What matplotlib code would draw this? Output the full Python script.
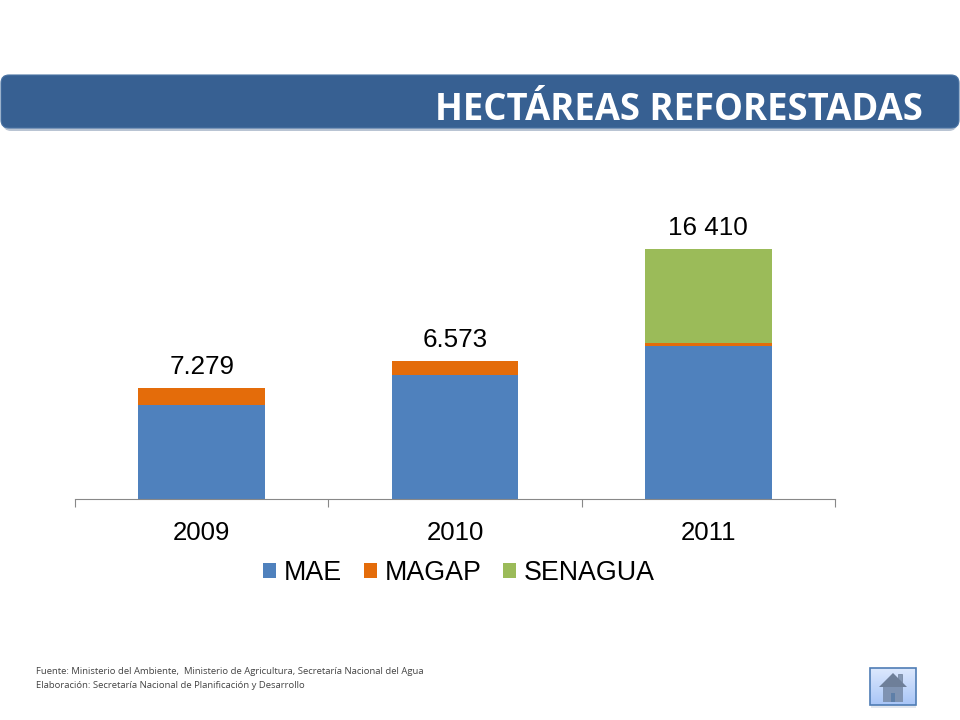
import numpy as np
import matplotlib.pyplot as plt
from matplotlib.colors import LinearSegmentedColormap
from matplotlib.patches import FancyBboxPatch, Polygon, Rectangle

plt.rcParams['font.family'] = ['Liberation Sans', 'DejaVu Sans']

# данные, высоты столбцов
years = ['2009', '2010', '2011']
mae = [6170, 8140, 10040]
magap = [1110, 920, 200]
senagua = [0, 0, 6170]
total_labels = ['7.279', '6.573', '16 410']
series_names = ['MAE', 'MAGAP', 'SENAGUA']
colors = ['#4F81BD', '#E46C0A', '#9BBB59']

fig = plt.figure(figsize=(9.6, 7.2), dpi=100)

# слой с оформлением слайда, координаты в пикселях
bg = fig.add_axes([0, 0, 1, 1])
bg.set_xlim(0, 960)
bg.set_ylim(720, 0)
bg.axis('off')

# плашка заголовка с тенью
bg.add_patch(FancyBboxPatch((3, 78), 954, 53, boxstyle='round,pad=0,rounding_size=8',
                            fc='#B9C4D3', ec='none'))
bg.add_patch(FancyBboxPatch((1, 75), 958, 53, boxstyle='round,pad=0,rounding_size=8',
                            fc='#376092', ec='#4A73A3', lw=0.8))
bg.text(923, 110, 'HECTÁREAS REFORESTADAS', ha='right', va='center', color='white',
        fontsize=26.3, fontweight='bold', family=['Open Sans', 'DejaVu Sans'])

# подпись с источниками
bg.text(36, 672, 'Fuente: Ministerio del Ambiente,  Ministerio de Agricultura, Secretaría Nacional del Agua',
        fontsize=6.8, color='#444444', va='center', family=['Open Sans', 'DejaVu Sans'])
bg.text(36, 685, 'Elaboración: Secretaría Nacional de Planificación y Desarrollo',
        fontsize=6.8, color='#444444', va='center', family=['Open Sans', 'DejaVu Sans'])

# кнопка с домиком
bg.add_patch(Rectangle((871, 670), 45, 38, fc='#E3E7EE', ec='none'))
bg.imshow(np.linspace(0, 1, 32).reshape(-1, 1), extent=(870, 916, 705, 668), aspect='auto',
          cmap=LinearSegmentedColormap.from_list('btn', ['#DCE8FD', '#A9C6F7']), zorder=2)
bg.add_patch(Rectangle((870, 668), 46, 37, fc='none', ec='#4F7DB5', lw=1.2, zorder=3))
bg.add_patch(Rectangle((883, 686), 20, 16, fc='#7F93B2', ec='none', zorder=4))
bg.add_patch(Polygon([(879, 687), (893, 673), (907, 687)], fc='#6E7F99', ec='none', zorder=5))
bg.add_patch(Rectangle((898, 674), 4, 8, fc='#8497B3', ec='#6E7F99', lw=0.5, zorder=4))
bg.add_patch(Rectangle((891, 693), 4, 9, fc='#5E7FA8', ec='none', zorder=6))
bg.set_xlim(0, 960)
bg.set_ylim(720, 0)

# сам график
ax = fig.add_axes([75 / 960, 221 / 720, 760 / 960, 304.7 / 720])
ax.patch.set_alpha(0)

x = np.arange(len(years))
bottom = np.zeros(len(years))
for name, vals, c in zip(series_names, [mae, magap, senagua], colors):
    ax.bar(x, vals, width=0.5, bottom=bottom, color=c, label=name)
    bottom = bottom + np.array(vals)

for xi, top, lab in zip(x, bottom, total_labels):
    ax.annotate(lab, (xi, top), xytext=(0, 9), textcoords='offset pixels',
                ha='center', va='bottom', fontsize=18.7)

ax.set_xlim(-0.5, 2.5)
ax.set_ylim(0, 20000)
ax.set_yticks([])
ax.set_xticks(x)
ax.set_xticklabels(years, fontsize=18.5)
ax.set_xticks([-0.5, 0.5, 1.5, 2.5], minor=True)
ax.tick_params(axis='x', which='major', length=0, pad=16)
ax.tick_params(axis='x', which='minor', length=6, width=0.8, color='#888888')
for s in ['top', 'left', 'right']:
    ax.spines[s].set_visible(False)
ax.spines['bottom'].set_color('#888888')
ax.spines['bottom'].set_linewidth(0.8)

ax.legend(ncol=3, loc='center', bbox_to_anchor=(384 / 760, -74 / 304.7), frameon=False, fontsize=19.3,
          handlelength=0.48, handleheight=0.48, handletextpad=0.3, columnspacing=0.8)

plt.savefig('out.png', dpi=100)
